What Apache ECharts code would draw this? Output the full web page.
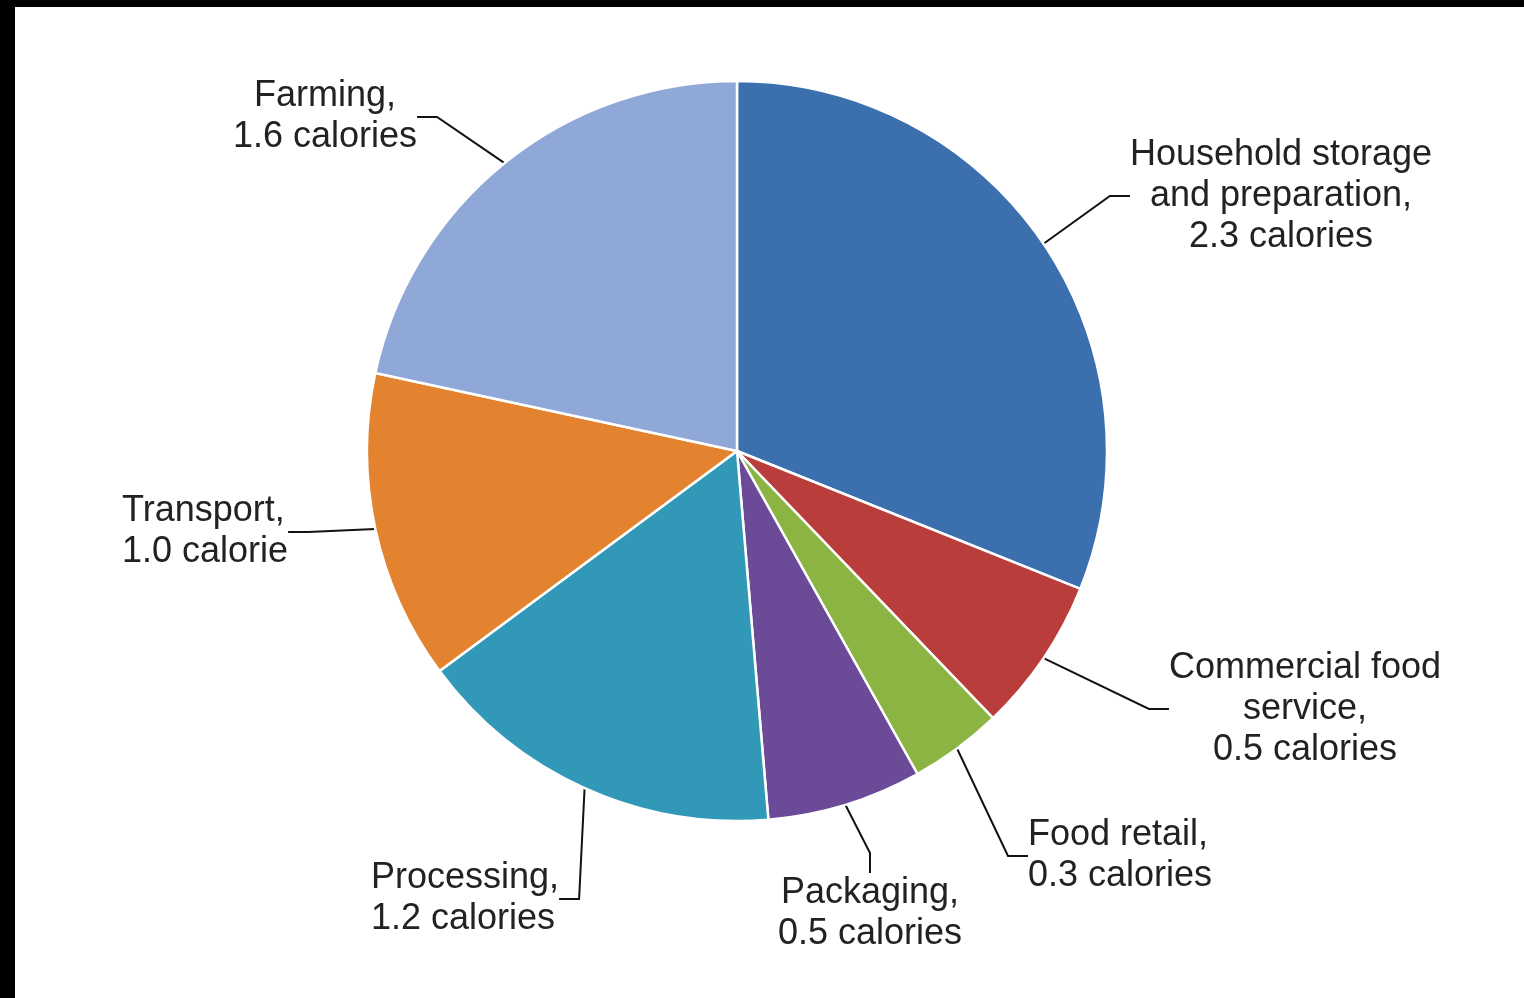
<!DOCTYPE html>
<html>
<head>
<meta charset="utf-8">
<script src="https://cdn.jsdelivr.net/npm/echarts@6/dist/echarts.min.js"></script>
<style>
  html, body { margin: 0; padding: 0; background: #000; width: 1524px; height: 998px; overflow: hidden; }
  #chart { position: absolute; left: 15px; top: 7px; width: 1509px; height: 991px; background: #fff; }
</style>
</head>
<body>
<div id="chart"></div>
<script>
// ---- data ----
const categories = ['Household storage and preparation', 'Commercial food service', 'Food retail', 'Packaging', 'Processing', 'Transport', 'Farming'];
const labelNames = ['Household storage\nand preparation,', 'Commercial food\nservice,', 'Food retail,', 'Packaging,', 'Processing,', 'Transport,', 'Farming,'];
const values = [2.3, 0.5, 0.3, 0.5, 1.2, 1.0, 1.6];
const colors = ['#3c6fae', '#b93d3b', '#8cb442', '#6b4b98', '#3298b8', '#e3832f', '#8fa8d8'];

// label anchor positions (chart pixel coords) and alignment
const labelPos = [
  { x: 1266, y: 189, align: 'center' },
  { x: 1290, y: 702, align: 'center' },
  { x: 1013, y: 849, align: 'left' },
  { x: 855,  y: 907, align: 'center' },
  { x: 356,  y: 892, align: 'left' },
  { x: 107,  y: 525, align: 'left' },
  { x: 310,  y: 110, align: 'center' }
];

const chart = echarts.init(document.getElementById('chart'), null, { renderer: 'canvas' });
chart.setOption({
  backgroundColor: '#fff',
  animation: false,
  series: [{
    type: 'pie',
    center: [722, 444],
    radius: 370,
    startAngle: 90,
    clockwise: true,
    avoidLabelOverlap: false,
    data: categories.map((c, i) => ({
      name: c,
      value: values[i],
      itemStyle: { color: colors[i] }
    })),
    itemStyle: { borderColor: '#ffffff', borderWidth: 2.5 },
    label: {
      show: true,
      position: 'outside',
      color: '#222',
      fontFamily: 'Liberation Sans, Arial, sans-serif',
      fontSize: 36,
      lineHeight: 41,
      formatter: p => {
        const i = p.dataIndex;
        const v = values[i];
        return labelNames[i] + '\n' + v.toFixed(1) + (v === 1 ? ' calorie' : ' calories');
      }
    },
    labelLine: {
      show: true,
      length: 20,
      length2: 20,
      lineStyle: { color: '#111', width: 2 }
    },
    labelLayout: params => {
      const p = labelPos[params.dataIndex];
      return { x: p.x, y: p.y, align: p.align, verticalAlign: 'middle', hideOverlap: false, moveOverlap: null };
    },
    emphasis: { disabled: true }
  }]
});
</script>
</body>
</html>
